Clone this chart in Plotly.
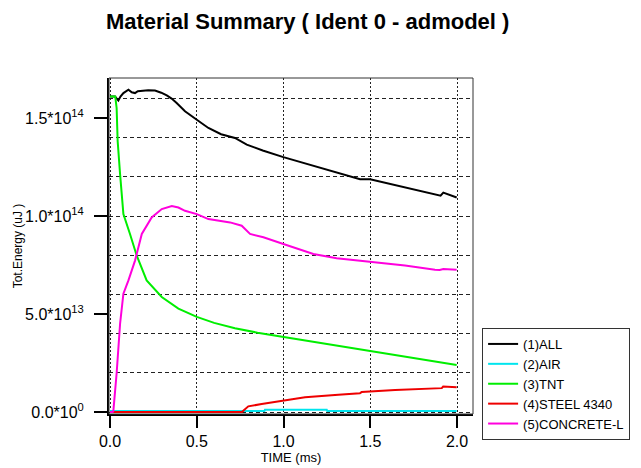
import plotly.graph_objects as go

# ---------------- data (time in ms, energy in uJ, values in units of 1e14) ----------------
all_t = [0.0, 0.029, 0.048, 0.06, 0.077, 0.09, 0.106, 0.125, 0.144, 0.16, 0.183, 0.22, 0.259,
         0.295, 0.327, 0.355, 0.384, 0.432, 0.5, 0.567, 0.64, 0.692, 0.72, 0.788, 0.88,
         0.999, 1.08, 1.172, 1.3, 1.441, 1.499, 1.57, 1.643, 1.72, 1.797, 1.892, 1.905,
         1.921, 1.96, 1.998]
all_e = [1.61, 1.61, 1.59, 1.61, 1.628, 1.635, 1.645, 1.632, 1.628, 1.638, 1.641, 1.643, 1.641,
         1.63, 1.616, 1.6, 1.577, 1.535, 1.492, 1.45, 1.418, 1.408, 1.399, 1.365, 1.335,
         1.301, 1.28, 1.255, 1.222, 1.188, 1.188, 1.173, 1.159, 1.142, 1.125, 1.103, 1.104,
         1.12, 1.108, 1.095]

air_t = [0.0, 0.89, 0.893, 1.249, 1.252, 1.998]
air_e = [0.005, 0.005, 0.012, 0.012, 0.005, 0.005]

tnt_t = [0.0, 0.03, 0.038, 0.044, 0.058, 0.077, 0.115, 0.154, 0.211, 0.298, 0.394, 0.5,
         0.6, 0.72, 0.85, 0.999, 1.2, 1.441, 1.499, 1.75, 1.998]
tnt_e = [1.61, 1.61, 1.552, 1.382, 1.213, 1.01, 0.909, 0.798, 0.672, 0.587, 0.528, 0.486,
         0.455, 0.428, 0.405, 0.384, 0.355, 0.322, 0.31, 0.275, 0.24]

steel_t = [0.0, 0.663, 0.76, 0.768, 0.797, 0.874, 0.999, 1.124, 1.316, 1.44, 1.45, 1.643,
           1.912, 1.92, 1.998]
steel_e = [0.0, 0.0, 0.0, 0.007, 0.029, 0.041, 0.057, 0.075, 0.088, 0.096, 0.102, 0.113,
           0.122, 0.13, 0.127]

conc_t = [0.0, 0.015, 0.019, 0.038, 0.058, 0.077, 0.106, 0.144, 0.183, 0.24, 0.298, 0.356,
          0.394, 0.432, 0.5, 0.567, 0.692, 0.759, 0.807, 0.884, 0.999, 1.172, 1.306, 1.441,
          1.499, 1.7, 1.873, 1.9, 1.921, 1.998]
conc_e = [0.0, 0.0, 0.005, 0.198, 0.452, 0.604, 0.672, 0.773, 0.909, 0.993, 1.036, 1.052,
          1.044, 1.027, 1.01, 0.985, 0.968, 0.951, 0.909, 0.892, 0.858, 0.807, 0.785, 0.773,
          0.765, 0.748, 0.726, 0.725, 0.73, 0.726]

names = ["(1)ALL", "(2)AIR", "(3)TNT", "(4)STEEL 4340", "(5)CONCRETE-L"]
colors = ["#000000", "#00e5ee", "#00ee00", "#ee0000", "#ff00dd"]
series_t = [all_t, air_t, tnt_t, steel_t, conc_t]
series_e = [all_e, air_e, tnt_e, steel_e, conc_e]
SCALE = 1e14

y_tickvals = [0.0, 0.5e14, 1.0e14, 1.5e14]
y_ticktext = ["0.0*10<sup>0</sup>", "5.0*10<sup>13</sup>", "1.0*10<sup>14</sup>",
              "1.5*10<sup>14</sup>"]
x_tickvals = [0.0, 0.5, 1.0, 1.5, 2.0]
x_ticktext = ["0.0", "0.5", "1.0", "1.5", "2.0"]

# ---------------- figure ----------------
FONT = "Liberation Sans, Arial, sans-serif"
fig = go.Figure()
for n, c, t, e in zip(names, colors, series_t, series_e):
    fig.add_trace(go.Scatter(x=t, y=[v * SCALE for v in e], mode="lines", name=n,
                             line=dict(color=c, width=2)))
# helper axis carrying only the dashed horizontal grid
fig.add_trace(go.Scatter(x=[None], y=[None], yaxis="y2", showlegend=False,
                         hoverinfo="skip", mode="lines"))

yrange = [-0.01e14, 1.705e14]
fig.update_layout(
    width=641, height=468,
    margin=dict(l=109, r=168, t=78, b=54, autoexpand=False),
    paper_bgcolor="white", plot_bgcolor="white",
    font=dict(family=FONT, color="black"),
    title=dict(text="<b>Material Summary ( Ident 0 - admodel )</b>",
               font=dict(size=22, family=FONT, color="black"),
               x=0.48, xanchor="center", xref="container",
               y=1 - 21 / 468, yanchor="middle", yref="container"),
    xaxis=dict(range=[-0.006, 2.092], tickmode="array", tickvals=x_tickvals,
               ticktext=x_ticktext, ticks="outside", ticklen=12, tickwidth=2,
               tickcolor="black", showline=True, linecolor="black", linewidth=2,
               showgrid=True, gridcolor="#222222", gridwidth=1, griddash="2px,2px",
               zeroline=False, tickfont=dict(size=16, family=FONT), automargin=False,
               title=dict(text="TIME (ms)", font=dict(size=13, family=FONT), standoff=4)),
    yaxis=dict(range=yrange, tickmode="array", tickvals=y_tickvals, ticktext=y_ticktext,
               ticks="outside", ticklen=13, tickwidth=2, tickcolor="black",
               showline=True, linecolor="black", linewidth=2, showgrid=False,
               zeroline=False, tickfont=dict(size=16, family=FONT), ticklabelstandoff=7,
               automargin=False,
               title=dict(text="Tot.Energy (uJ )", font=dict(size=12, family=FONT),
                          standoff=0)),
    yaxis2=dict(range=yrange, overlaying="y", side="left", tick0=0, dtick=0.2e14,
                showgrid=True, gridcolor="#222222", gridwidth=1, griddash="4px,3px",
                showticklabels=False, ticks="", showline=False, zeroline=False,
                automargin=False),
    legend=dict(x=1.025, y=0.256, xanchor="left", yanchor="top",
                bordercolor="#333333", borderwidth=1, bgcolor="white",
                font=dict(size=13, family=FONT), tracegroupgap=0),
    shapes=[dict(type="rect", xref="paper", yref="paper", x0=0, x1=1, y0=0, y1=1,
                 line=dict(color="#333333", width=1), layer="above")],
    showlegend=True,
)

fig.write_html("out.html")
